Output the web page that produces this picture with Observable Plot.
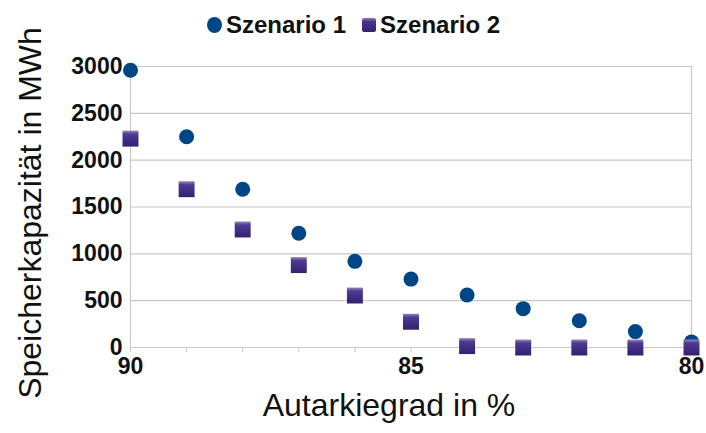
<!DOCTYPE html>
<html>
<head>
<meta charset="utf-8">
<script src="https://cdn.jsdelivr.net/npm/d3@7"></script>
<script src="https://cdn.jsdelivr.net/npm/@observablehq/plot@0.6"></script>
<style>
  body { margin: 0; background: #fff; font-family: "Liberation Sans", Arial, sans-serif; }
  #wrap { width: 706px; height: 433px; position: relative; }
  #legend { position: absolute; top: 8px; left: 207px; height: 34px; display: flex; align-items: center; font-weight: bold; font-size: 24px; color: #111; }
  .item { display: flex; align-items: center; margin-right: 16px; }
  .dot { width: 15px; height: 16px; border-radius: 50%; background: #004586; margin-right: 4px; }
  .sq { width: 14px; height: 14px; border-radius: 2px; background: linear-gradient(#8a7cb8 0%, #4a3590 25%, #35206f 100%); margin-right: 4px; }
</style>
</head>
<body>
<div id="wrap">
  <div id="chart"></div>
  <div id="legend">
    <div class="item"><div class="dot"></div><span>Szenario 1</span></div>
    <div class="item"><div class="sq"></div><span>Szenario 2</span></div>
  </div>
</div>
<script>
const autarkie = [90, 89, 88, 87, 86, 85, 84, 83, 82, 81, 80];
const szenario1 = [2960, 2250, 1690, 1220, 920, 730, 560, 415, 285, 170, 60];
const szenario2 = [2230, 1690, 1260, 880, 555, 275, 15, 0, 0, 0, 0];
const yTicks = [0, 500, 1000, 1500, 2000, 2500, 3000];
const xTicks = [90, 89, 88, 87, 86, 85, 84, 83, 82, 81, 80];
const xLabel = "Autarkiegrad in %";
const yLabel = "Speicherkapazität in MWh";

const d1 = autarkie.map((x, i) => ({x, y: szenario1[i]}));
const d2 = autarkie.map((x, i) => ({x, y: szenario2[i]}));

const defs = () => {
  const ns = "http://www.w3.org/2000/svg";
  const d = document.createElementNS(ns, "defs");
  const g = document.createElementNS(ns, "linearGradient");
  g.setAttribute("id", "sqgrad");
  g.setAttribute("x1", "0"); g.setAttribute("y1", "0");
  g.setAttribute("x2", "0"); g.setAttribute("y2", "1");
  [["0%", "#9488c0"], ["22%", "#4e3a95"], ["100%", "#33206c"]].forEach(([o, c]) => {
    const s = document.createElementNS(ns, "stop");
    s.setAttribute("offset", o); s.setAttribute("stop-color", c);
    g.appendChild(s);
  });
  d.appendChild(g);
  return d;
};

const chart = Plot.plot({
  width: 706,
  height: 433,
  marginTop: 66,
  marginBottom: 86,
  marginLeft: 130,
  marginRight: 15,
  style: { fontFamily: "Liberation Sans, Arial, sans-serif", background: "#fff" },
  x: { domain: [90, 80] },
  y: { domain: [0, 3000] },
  marks: [
    defs,
    Plot.ruleY(yTicks, { stroke: "#c8c8c8", strokeWidth: 1.2 }),
    Plot.ruleX([90, 80], { stroke: "#c8c8c8", strokeWidth: 1.2 }),
    Plot.axisX({ ticks: xTicks, tickFormat: d => d % 5 === 0 ? String(d) : "", tickSize: 5, tickPadding: 5, stroke: "#c8c8c8", fontSize: 23, fontWeight: "bold", fill: "#111", label: null }),
    Plot.axisY({ ticks: yTicks, tickFormat: d => String(d), tickSize: 0, tickPadding: 8, fontSize: 23, fontWeight: "bold", fill: "#111", label: null }),
    Plot.dot(d1, { x: "x", y: "y", r: 7.5, fill: "#004586" }),
    Plot.dot(d2, { x: "x", y: "y", symbol: "square", r: 9, fill: "url(#sqgrad)" }),
    Plot.text([xLabel], { frameAnchor: "bottom", dx: -22, dy: 68, fontSize: 32, fill: "#111" }),
    Plot.text([yLabel], { frameAnchor: "left", textAnchor: "middle", rotate: -90, dx: -100, dy: 6, fontSize: 32, fill: "#111" })
  ]
});
document.getElementById("chart").appendChild(chart);
</script>
</body>
</html>
